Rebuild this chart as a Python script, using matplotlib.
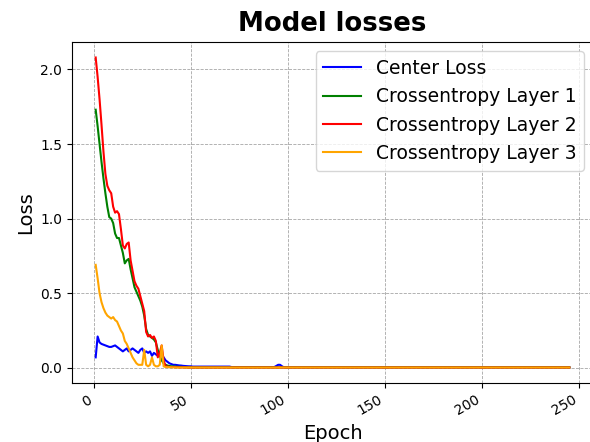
import numpy as np
import matplotlib
import matplotlib.pyplot as plt

matplotlib.use("Agg")

# per-epoch losses (epochs 1..50), then near-zero tails
center_head = [0.07, 0.21, 0.17, 0.16, 0.155, 0.15, 0.145, 0.14, 0.14, 0.145,
               0.15, 0.14, 0.13, 0.12, 0.11, 0.12, 0.13, 0.11, 0.12, 0.13,
               0.12, 0.11, 0.10, 0.12, 0.13, 0.10, 0.11, 0.10, 0.11, 0.08,
               0.10, 0.09, 0.08, 0.10, 0.09, 0.07, 0.05, 0.04, 0.03, 0.025,
               0.02, 0.02, 0.018, 0.016, 0.015, 0.013, 0.012, 0.011, 0.010, 0.010]
ce1_head = [1.73, 1.62, 1.50, 1.38, 1.27, 1.17, 1.08, 1.01, 1.00, 0.97,
            0.90, 0.87, 0.87, 0.82, 0.77, 0.70, 0.72, 0.73, 0.66, 0.60,
            0.54, 0.51, 0.48, 0.45, 0.41, 0.35, 0.26, 0.22, 0.21, 0.20,
            0.19, 0.17, 0.12, 0.08, 0.05, 0.03, 0.02, 0.015, 0.012, 0.010,
            0.009, 0.008, 0.007, 0.006, 0.006, 0.005, 0.005, 0.004, 0.004, 0.004]
ce2_head = [2.08, 1.95, 1.80, 1.63, 1.45, 1.30, 1.22, 1.19, 1.17, 1.08,
            1.04, 1.05, 1.03, 0.93, 0.82, 0.80, 0.83, 0.84, 0.72, 0.65,
            0.58, 0.55, 0.53, 0.48, 0.43, 0.38, 0.24, 0.21, 0.22, 0.20,
            0.21, 0.18, 0.07, 0.10, 0.15, 0.05, 0.01, 0.008, 0.006, 0.005,
            0.005, 0.004, 0.004, 0.003, 0.003, 0.003, 0.003, 0.002, 0.002, 0.002]
ce3_head = [0.69, 0.60, 0.50, 0.44, 0.40, 0.37, 0.35, 0.34, 0.33, 0.34,
            0.32, 0.31, 0.28, 0.25, 0.23, 0.18, 0.16, 0.13, 0.10, 0.07,
            0.05, 0.03, 0.02, 0.02, 0.02, 0.12, 0.02, 0.01, 0.02, 0.07,
            0.02, 0.01, 0.01, 0.02, 0.15, 0.01, 0.005, 0.004, 0.004, 0.003,
            0.003, 0.003, 0.002, 0.002, 0.002, 0.002, 0.002, 0.002, 0.002, 0.002]

# epochs 51..245
center_tail = [0.008] * 20 + [0.005] * 23 + [0.012, 0.02, 0.02, 0.01] + [0.003] * 148
ce1_tail = [0.003] * 195
ce2_tail = [0.002] * 195
ce3_tail = [0.002] * 195

center = center_head + center_tail
ce1 = ce1_head + ce1_tail
ce2 = ce2_head + ce2_tail
ce3 = ce3_head + ce3_tail
epochs = np.arange(1, len(center) + 1)

fig = plt.figure(figsize=(5.9, 4.42), dpi=100)
ax = fig.add_axes([72 / 590, 1 - 383 / 442, (593 - 72) / 590, (383 - 42) / 442])

ax.plot(epochs, center, color="blue", lw=1.5, label="Center Loss")
ax.plot(epochs, ce1, color="green", lw=1.5, label="Crossentropy Layer 1")
ax.plot(epochs, ce2, color="red", lw=1.5, label="Crossentropy Layer 2")
ax.plot(epochs, ce3, color="orange", lw=1.5, label="Crossentropy Layer 3")

ax.grid(True, linestyle="--", color="gray", lw=0.6, alpha=0.7)
ax.set_title("Model losses", fontsize=18.7, fontweight="bold", pad=8)
ax.set_xlabel("Epoch", fontsize=14)
ax.set_ylabel("Loss", fontsize=14)
ax.set_yticks([0.0, 0.5, 1.0, 1.5, 2.0])
for lab in ax.get_xticklabels():
    lab.set_rotation(30)
    lab.set_ha("right")
ax.legend(loc="upper right", fontsize=13.5)

fig.savefig("out.png", dpi=100)
